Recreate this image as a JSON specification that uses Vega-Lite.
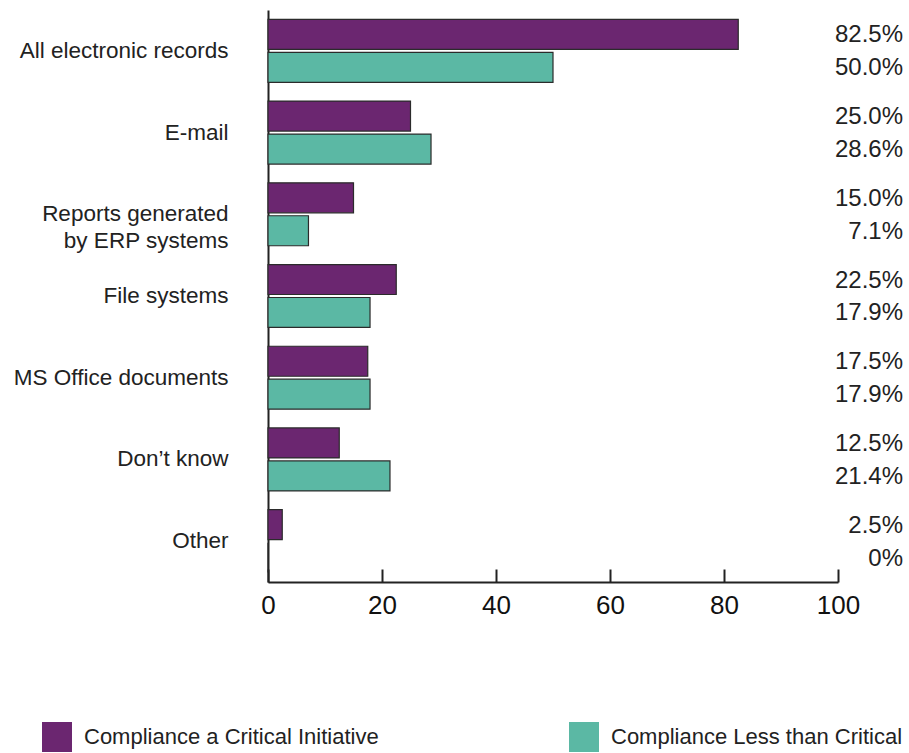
{
  "$schema": "https://vega.github.io/schema/vega-lite/v6.json",
  "width": 570,
  "height": 572,
  "autosize": {"type": "none"},
  "padding": {"left": 268, "top": 10, "right": 71, "bottom": 171},
  "background": "#ffffff",
  "config": {
    "view": {"stroke": null},
    "font": "Liberation Sans"
  },
  "data": {
    "values": [
      {"category": "All electronic records", "group": "Compliance a Critical Initiative", "value": 82.5},
      {"category": "All electronic records", "group": "Compliance Less than Critical", "value": 50.0},
      {"category": "E-mail", "group": "Compliance a Critical Initiative", "value": 25.0},
      {"category": "E-mail", "group": "Compliance Less than Critical", "value": 28.6},
      {"category": "Reports generated by ERP systems", "group": "Compliance a Critical Initiative", "value": 15.0},
      {"category": "Reports generated by ERP systems", "group": "Compliance Less than Critical", "value": 7.1},
      {"category": "File systems", "group": "Compliance a Critical Initiative", "value": 22.5},
      {"category": "File systems", "group": "Compliance Less than Critical", "value": 17.9},
      {"category": "MS Office documents", "group": "Compliance a Critical Initiative", "value": 17.5},
      {"category": "MS Office documents", "group": "Compliance Less than Critical", "value": 17.9},
      {"category": "Don’t know", "group": "Compliance a Critical Initiative", "value": 12.5},
      {"category": "Don’t know", "group": "Compliance Less than Critical", "value": 21.4},
      {"category": "Other", "group": "Compliance a Critical Initiative", "value": 2.5},
      {"category": "Other", "group": "Compliance Less than Critical", "value": 0}
    ]
  },
  "transform": [
    {"calculate": "datum.value == 0 ? '0%' : format(datum.value, '.1f') + '%'", "as": "label"}
  ],
  "encoding": {
    "y": {
      "field": "category",
      "type": "nominal",
      "sort": ["All electronic records", "E-mail", "Reports generated by ERP systems", "File systems", "MS Office documents", "Don’t know", "Other"],
      "scale": {"paddingInner": 0.23, "paddingOuter": 0.115},
      "axis": {
        "title": null,
        "ticks": false,
        "domain": true,
        "domainColor": "#222222",
        "domainWidth": 2,
        "labelFontSize": 22.5,
        "labelColor": "#222222",
        "labelPadding": 40,
        "labelLimit": 400,
        "labelLineHeight": 27,
        "labelExpr": "datum.value == 'Reports generated by ERP systems' ? ['Reports generated', 'by ERP systems'] : datum.value"
      }
    },
    "yOffset": {
      "field": "group",
      "type": "nominal",
      "sort": ["Compliance a Critical Initiative", "Compliance Less than Critical"],
      "scale": {"paddingInner": 0.09, "paddingOuter": 0}
    }
  },
  "layer": [
    {
      "mark": {"type": "bar", "stroke": "#2b2b2b", "strokeWidth": 1.2},
      "encoding": {
        "x": {
          "field": "value",
          "type": "quantitative",
          "scale": {"domain": [0, 100], "nice": false},
          "axis": {
            "title": null,
            "values": [0, 20, 40, 60, 80, 100],
            "grid": false,
            "domainColor": "#222222",
            "domainWidth": 2,
            "tickColor": "#222222",
            "tickWidth": 2,
            "tickSize": -13,
            "labelFlush": false,
            "labelFontSize": 26,
            "labelColor": "#111111",
            "labelPadding": 23
          }
        },
        "color": {
          "field": "group",
          "type": "nominal",
          "sort": ["Compliance a Critical Initiative", "Compliance Less than Critical"],
          "scale": {"range": ["#6b2670", "#5bb8a4"]},
          "legend": {
            "title": null,
            "orient": "none",
            "legendX": -226,
            "legendY": 712,
            "direction": "horizontal",
            "symbolType": "square",
            "symbolSize": 900,
            "symbolStrokeWidth": 0,
            "symbolOpacity": 1,
            "labelFontSize": 22,
            "labelLimit": 400,
            "labelColor": "#222222",
            "labelOffset": 12,
            "columnPadding": 190
          }
        }
      }
    },
    {
      "mark": {"type": "text", "align": "right", "baseline": "middle", "dx": 65, "dy": 1, "fontSize": 24, "color": "#222222"},
      "encoding": {
        "x": {"datum": 100},
        "text": {"field": "label"}
      }
    }
  ]
}
